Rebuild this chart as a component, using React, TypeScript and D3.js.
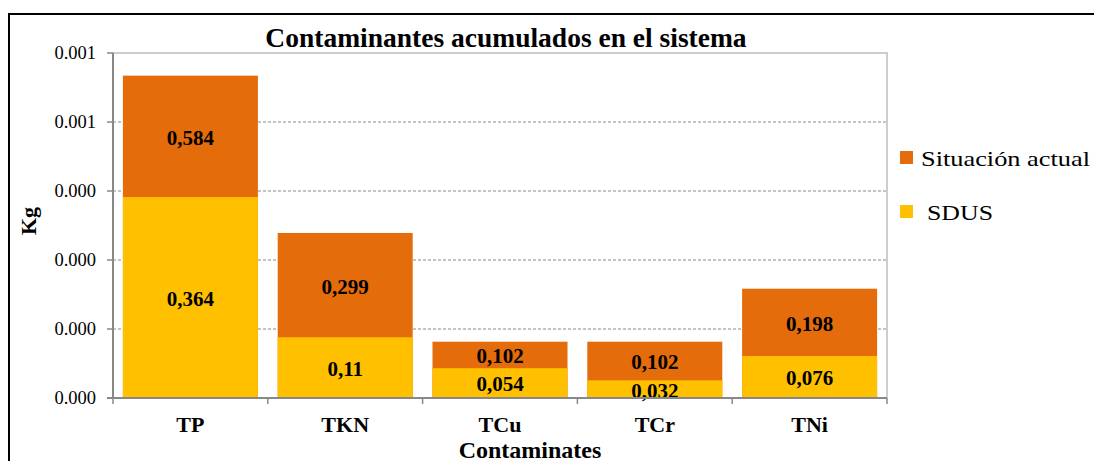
import React from "react";
import * as d3 from "d3";

const categories = ["TP", "TKN", "TCu", "TCr", "TNi"];
const situacionActual = [0.000584, 0.000299, 0.000102, 0.000102, 0.000198];
const sdus = [0.000364, 0.00011, 0.000054, 0.000032, 0.000076];
const situacionLabels = ["0,584", "0,299", "0,102", "0,102", "0,198"];
const sdusLabels = ["0,364", "0,11", "0,054", "0,032", "0,076"];
const yTicks = [0, 0.000125, 0.00025, 0.000375, 0.0005, 0.000625];
const yTickLabels = ["0.000", "0.000", "0.000", "0.000", "0.001", "0.001"];

const ORANGE = "#E46C0A";
const YELLOW = "#FFC000";
const FONT = "Liberation Serif, Times New Roman, Times, DejaVu Serif, serif";

export default function App() {
  const W = 1094, H = 461;
  const left = 113, right = 887, top = 53, bottom = 398;
  const x = d3.scaleBand<string>().domain(categories).range([left, right]).padding(0);
  const y = d3.scaleLinear().domain([0, 0.000625]).range([bottom, top]);
  const bw = 135;
  const inset = (x.bandwidth() - bw) / 2;
  const ts = { fontFamily: FONT };

  return (
    <svg width={W} height={H} style={{ position: "absolute", left: 0, top: 0, fontFamily: FONT }}>
      <rect x={0} y={0} width={W} height={H} fill="#fff" />
      <path d={`M9,${H + 5} L9,14 L${W + 5},14`} fill="none" stroke="#000" strokeWidth={2} />
      <text x={506} y={47} textAnchor="middle" fontWeight="bold" fontSize={27.5} style={ts}>
        Contaminantes acumulados en el sistema
      </text>
      {yTicks.slice(1, -1).map((t, i) => (
        <line key={i} x1={left} x2={right} y1={y(t)} y2={y(t)} stroke="#888" strokeDasharray="3,2" strokeWidth={1} />
      ))}
      <path d={`M${left},${top} L${right},${top} L${right},${bottom}`} fill="none" stroke="#bdbdbd" strokeWidth={1.5} />
      {categories.map((c, i) => {
        const x0 = (x(c) as number) + inset;
        return (
          <g key={c}>
            <rect x={x0} y={y(situacionActual[i])} width={bw} height={bottom - y(situacionActual[i])} fill={ORANGE} />
            <rect x={x0} y={y(sdus[i])} width={bw} height={bottom - y(sdus[i])} fill={YELLOW} />
            <text x={x0 + bw / 2} y={(y(situacionActual[i]) + y(sdus[i])) / 2} dy="0.4em" textAnchor="middle" fontWeight="bold" fontSize={21} style={ts}>
              {situacionLabels[i]}
            </text>
            <text x={x0 + bw / 2} y={(y(sdus[i]) + bottom) / 2} dy="0.4em" textAnchor="middle" fontWeight="bold" fontSize={21} style={ts}>
              {sdusLabels[i]}
            </text>
          </g>
        );
      })}
      <line x1={left} x2={left} y1={top} y2={bottom} stroke="#888" strokeWidth={2} />
      <line x1={left - 6} x2={right} y1={bottom} y2={bottom} stroke="#888" strokeWidth={2} />
      {yTicks.map((t, i) => (
        <g key={i}>
          <line x1={left - 6} x2={left} y1={y(t)} y2={y(t)} stroke="#888" strokeWidth={1.5} />
          <text x={96} y={y(t)} dy="0.35em" textAnchor="end" fontSize={18.5} style={ts}>
            {yTickLabels[i]}
          </text>
        </g>
      ))}
      {categories.map((c, i) => (
        <line key={"t" + i} x1={x(c) as number} x2={x(c) as number} y1={bottom} y2={bottom + 6} stroke="#888" strokeWidth={1.5} />
      ))}
      <line x1={right} x2={right} y1={bottom} y2={bottom + 6} stroke="#888" strokeWidth={1.5} />
      {categories.map((c) => (
        <text key={"l" + c} x={(x(c) as number) + x.bandwidth() / 2} y={432} textAnchor="middle" fontWeight="bold" fontSize={22} style={ts}>
          {c}
        </text>
      ))}
      <text x={530} y={458} textAnchor="middle" fontWeight="bold" fontSize={24} style={ts}>
        Contaminates
      </text>
      <text transform={`translate(36,221) rotate(-90)`} textAnchor="middle" fontWeight="bold" fontSize={22} style={ts}>
        Kg
      </text>
      <rect x={900} y={151} width={13} height={13} fill={ORANGE} />
      <text x={921} y={166} fontSize={21} textLength={169} lengthAdjust="spacingAndGlyphs" style={ts}>Situación actual</text>
      <rect x={900} y={205} width={13} height={13} fill={YELLOW} />
      <text x={927} y={220} fontSize={21} textLength={66} lengthAdjust="spacingAndGlyphs" style={ts}>SDUS</text>
    </svg>
  );
}
